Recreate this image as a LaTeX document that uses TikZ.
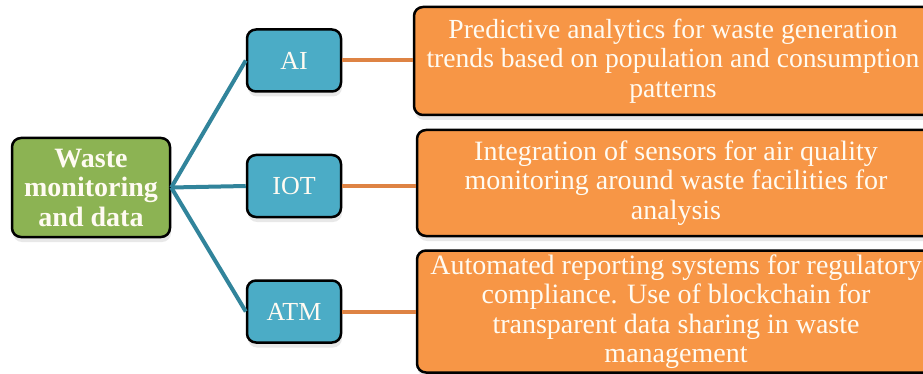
\documentclass[tikz,border=0pt]{standalone}
\usepackage{fontspec}
\setmainfont{Liberation Serif}
\usetikzlibrary{shadows}
\definecolor{gfill}{HTML}{8CB353}
\definecolor{bfill}{HTML}{4BACC6}
\definecolor{ofill}{HTML}{F79646}
\definecolor{tealline}{HTML}{31849B}
\definecolor{orline}{HTML}{DE8344}
\definecolor{txt}{HTML}{FFFBF2}
\tikzset{
  base/.style={draw=black, line width=2.5pt, rounded corners=9pt, text=txt,
    align=center, inner sep=2pt,
    drop shadow={opacity=0.18, shadow xshift=1pt, shadow yshift=-5pt}},
  rootbox/.style={base, fill=gfill, minimum width=158pt, minimum height=99pt,
    font=\fontsize{28}{29.5}\selectfont\bfseries},
  techbox/.style={base, fill=bfill, minimum width=94pt, minimum height=62pt,
    font=\fontsize{26}{28}\selectfont},
  descbox/.style={base, fill=ofill, minimum width=518pt,
    font=\fontsize{28}{29.5}\selectfont},
  tline/.style={draw=tealline, line width=4pt},
  oline/.style={draw=orline, line width=4pt}
}
\begin{document}
\begin{tikzpicture}[x=1pt,y=-1pt]
\useasboundingbox (0,0) rectangle (923,374);
\clip (0,0) rectangle (923,374);
\fill[white] (0,0) rectangle (923,374);

\node[rootbox] (root) at (91,187.5) {Waste\\monitoring\\and data};

\node[techbox] (ai)  at (294,60.5) {AI};
\node[techbox] (iot) at (294,186) {IOT};
\node[techbox] (atm) at (294,311.5) {ATM};

\node[descbox, minimum height=108pt, font=\fontsize{27.6}{29.5}\selectfont] (d1) at (673,61)
  {Predictive analytics for waste generation\\trends based on population and consumption\\patterns};
\node[descbox, minimum height=106pt] (d2) at (676,183)
  {Integration of sensors for air quality\\monitoring around waste facilities for\\analysis};
\node[descbox, minimum height=122pt] (d3) at (676,311.5)
  {Automated reporting systems for regulatory\\compliance. Use of blockchain for\\transparent data sharing in waste\\management};

\draw[tline] (root.east) -- (ai.west);
\draw[tline] (root.east) -- (iot.west);
\draw[tline] (root.east) -- (atm.west);

\draw[oline] (ai.east) -- (ai.east -| d1.west);
\draw[oline] (iot.east) -- (iot.east -| d2.west);
\draw[oline] (atm.east) -- (atm.east -| d3.west);
\end{tikzpicture}
\end{document}
